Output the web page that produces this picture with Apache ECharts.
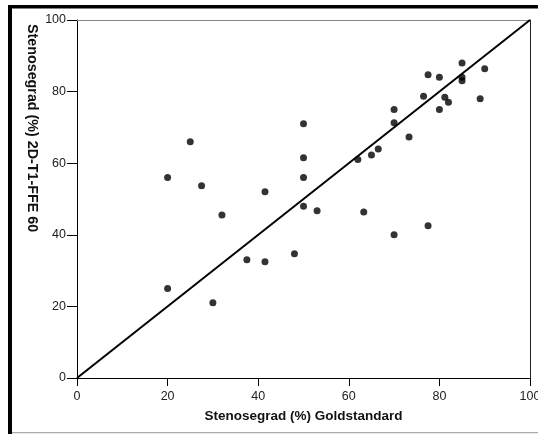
<!DOCTYPE html>
<html>
<head>
<meta charset="utf-8">
<script src="https://cdn.jsdelivr.net/npm/echarts@6/dist/echarts.min.js"></script>
<style>
html,body{margin:0;padding:0;background:#fff;}
#c{width:538px;height:434px;}
</style>
</head>
<body>
<div id="c"></div>
<script>
var xTitle = 'Stenosegrad (%) Goldstandard';
var yTitle = 'Stenosegrad (%) 2D-T1-FFE 60';
var goldX = [20,20,25,27.5,30,32,37.5,41.5,41.5,48,50,50,50,50,53,62,63.3,65,66.5,70,70,70,73.3,76.5,77.5,77.5,80,80,81.2,82,85,85,85,89,90];
var ffeY  = [25,56,66,53.7,21,45.5,33,52,32.5,34.7,71,61.5,56,48,46.7,61,46.4,62.3,64,75,71.3,40,67.3,78.7,84.7,42.5,84,75,78.4,77,88,84,83,78,86.4];
var identityLine = [[0,0],[100,100]];
var ticks = [0,20,40,60,80,100];

var pts = goldX.map(function(x,i){return [x, ffeY[i]];});
var font = 'Liberation Sans, Arial, sans-serif';
var chart = echarts.init(document.getElementById('c'), null, {renderer:'canvas'});
chart.setOption({
  animation:false,
  backgroundColor:'#fff',
  grid:{left:77,right:8,top:20,bottom:56,containLabel:false,outerBoundsMode:'none'},
  xAxis:[{
    type:'value',min:0,max:100,interval:20,position:'bottom',
    axisLine:{show:true,onZero:false,lineStyle:{color:'#000',width:1}},
    axisTick:{show:true,length:8,lineStyle:{color:'#000'}},
    axisLabel:{color:'#222',fontSize:12.5,fontFamily:font,margin:12},
    splitLine:{show:false},
    name:xTitle,nameLocation:'middle',nameGap:31,
    nameTextStyle:{color:'#111',fontSize:13.5,fontWeight:'bold',fontFamily:font}
  },{
    type:'value',min:0,max:100,position:'top',
    axisLine:{show:true,onZero:false,lineStyle:{color:'#888',width:1}},
    axisTick:{show:false},axisLabel:{show:false},splitLine:{show:false}
  }],
  yAxis:[{
    type:'value',min:0,max:100,interval:20,position:'left',
    axisLine:{show:true,onZero:false,lineStyle:{color:'#000',width:1}},
    axisTick:{show:true,length:10,lineStyle:{color:'#000'}},
    axisLabel:{color:'#222',fontSize:12.5,fontFamily:font,margin:11},
    splitLine:{show:false}
  },{
    type:'value',min:0,max:100,position:'right',
    axisLine:{show:true,onZero:false,lineStyle:{color:'#222',width:1}},
    axisTick:{show:false},axisLabel:{show:false},splitLine:{show:false}
  }],
  series:[{
    type:'line',data:identityLine,symbol:'none',
    lineStyle:{color:'#000',width:2},z:2
  },{
    type:'scatter',data:pts,symbol:'circle',symbolSize:7,
    itemStyle:{color:'#000'},z:3
  }],
  graphic:[
    {type:'rect',shape:{x:8,y:5,width:530,height:3.5},style:{fill:'#000'},z:10},
    {type:'rect',shape:{x:8,y:5,width:4,height:429},style:{fill:'#000'},z:10},
    {type:'rect',shape:{x:12,y:432,width:526,height:1.2},style:{fill:'#aaa'},z:10},
    {type:'text',x:32,y:24,rotation:-Math.PI/2,
     style:{text:yTitle,fill:'#111',font:'bold 14.3px '+font,textAlign:'left',textVerticalAlign:'middle'},z:10}
  ]
});
</script>
</body>
</html>
